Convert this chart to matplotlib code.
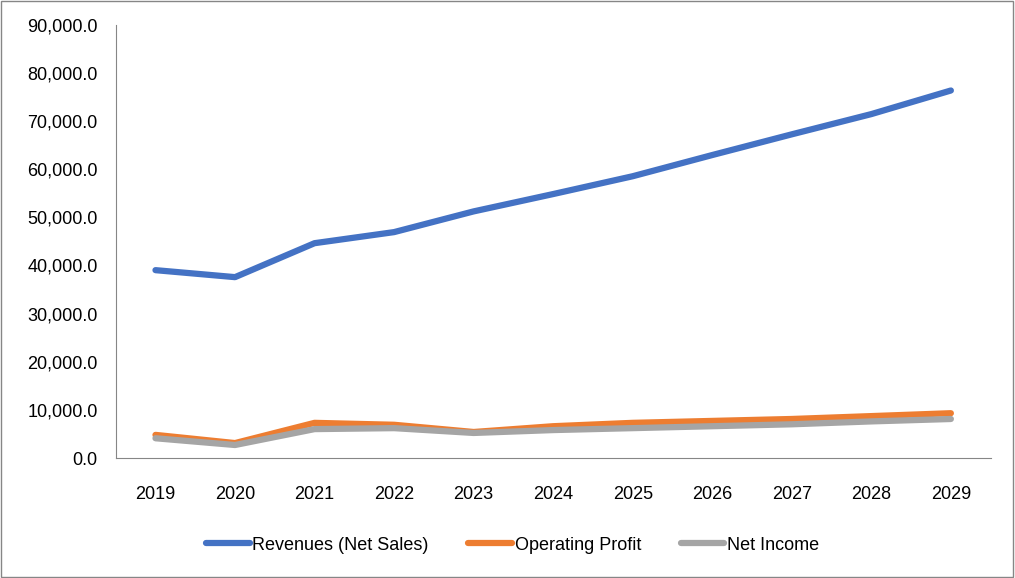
import matplotlib.pyplot as plt
from matplotlib.ticker import FuncFormatter
from matplotlib.patches import Rectangle

years = [2019, 2020, 2021, 2022, 2023, 2024, 2025, 2026, 2027, 2028, 2029]
revenues = [39000, 37550, 44600, 46900, 51200, 54800, 58500, 62900, 67200, 71400, 76300]
op_profit = [4800, 3100, 7300, 6900, 5400, 6600, 7300, 7700, 8100, 8700, 9300]
net_income = [4100, 2700, 6000, 6200, 5200, 5800, 6200, 6600, 7000, 7600, 8100]

plt.rcParams['font.family'] = ['Liberation Sans', 'DejaVu Sans']

fig = plt.figure(figsize=(10.15, 5.78), dpi=100)
ax = fig.add_axes([0.114, 0.2076, 0.862, 0.75])
x = list(range(len(years)))
ax.plot(x, revenues, color='#4472C4', lw=4.5, solid_capstyle='round', label='Revenues (Net Sales)')
ax.plot(x, op_profit, color='#ED7D31', lw=4.5, solid_capstyle='round', label='Operating Profit')
ax.plot(x, net_income, color='#A5A5A5', lw=4.5, solid_capstyle='round', label='Net Income')

ax.set_xlim(-0.5, len(years) - 0.5)
ax.set_ylim(0, 90000)
ax.set_yticks(range(0, 90001, 10000))
ax.yaxis.set_major_formatter(FuncFormatter(lambda v, p: f'{v:,.1f}'))
ax.set_xticks(x)
ax.set_xticklabels([str(y) for y in years])
for s in ['top', 'right']:
    ax.spines[s].set_visible(False)
for s in ['left', 'bottom']:
    ax.spines[s].set_color('#868686')
ax.tick_params(axis='both', length=0, labelsize=13, colors='black')
ax.tick_params(axis='y', pad=13)
ax.tick_params(axis='x', pad=20)

fig.legend(loc='center', bbox_to_anchor=(0.505, 0.057), ncol=3, frameon=False,
           fontsize=13, handlelength=2.4, columnspacing=2.2, handletextpad=0.15)
fig.patches.append(Rectangle((0.001, 0.001), 0.997, 0.997, transform=fig.transFigure,
                             fill=False, edgecolor='#868686', lw=1))
fig.savefig('out.png', dpi=100)
